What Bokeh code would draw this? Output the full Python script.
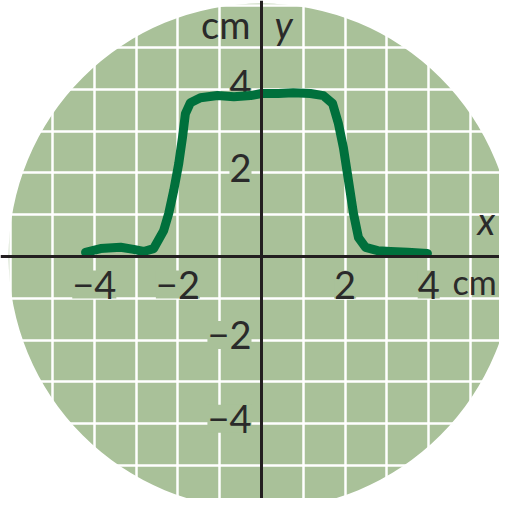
from bokeh.plotting import figure
from bokeh.models import Grid, SingleIntervalTicker, Span, ColumnDataSource
from bokeh.core.properties import value
from bokeh.embed import file_html
from bokeh.resources import INLINE

# ---- data ----
curve_x = [-4.21, -3.85, -3.37, -3.06, -2.82, -2.58, -2.34, -2.22, -2.10, -1.98,
           -1.89, -1.82, -1.70, -1.46, -1.05, -0.66, -0.26, 0.0, 0.40, 0.76, 1.17,
           1.48, 1.70, 1.84, 1.96, 2.08, 2.20, 2.32, 2.49, 2.78, 3.09, 3.50, 3.97]
curve_y = [0.10, 0.19, 0.22, 0.17, 0.12, 0.19, 0.62, 1.03, 1.58, 2.22,
           2.85, 3.42, 3.68, 3.80, 3.85, 3.82, 3.85, 3.90, 3.90, 3.92, 3.90,
           3.85, 3.66, 3.18, 2.60, 1.82, 1.03, 0.45, 0.22, 0.14, 0.12, 0.10, 0.07]

x_tick_values = [-4, -2, 2, 4]
x_tick_labels = ["\u22124", "\u22122", "2", "4"]
y_tick_values = [4, 2, -2, -4]
y_tick_labels = ["4", "2", "\u22122", "\u22124"]
disc_radius = 6.05

GREEN = "#a9c199"
CURVE = "#00703c"
INK = "#231f20"
TEXT = "#2a2a2a"
FONT = value("Lato")
FS = "38px"

px = 41.8
W, H = 499, 498
ox, oy = 261, 256
p = figure(width=W, height=H, output_backend="svg", toolbar_location=None,
           x_range=(-ox / px, (W - ox) / px), y_range=(-(H - oy) / px, oy / px),
           x_axis_type=None, y_axis_type=None, min_border=0,
           outline_line_color=None, background_fill_color="white",
           border_fill_color="white")

p.circle(x=[0], y=[0], radius=disc_radius, fill_color=GREEN, line_color=None,
         level="image")

for dim in (0, 1):
    p.add_layout(Grid(dimension=dim, ticker=SingleIntervalTicker(interval=1),
                      grid_line_color="white", grid_line_width=2.5))

xs = ColumnDataSource(dict(x=x_tick_values, y=[0] * len(x_tick_values), t=x_tick_labels))
p.text(x="x", y="y", text="t", source=xs, text_font=FONT, text_font_size=FS,
       text_color=TEXT, text_align="center", text_baseline="alphabetic",
       y_offset=28, background_fill_color=GREEN)
ys = ColumnDataSource(dict(x=[0] * len(y_tick_values), y=y_tick_values, t=y_tick_labels))
p.text(x="x", y="y", text="t", source=ys, text_font=FONT, text_font_size=FS,
       text_color=TEXT, text_align="right", text_baseline="alphabetic",
       x_offset=-10, y_offset=-5, background_fill_color=GREEN)

# axis titles
p.text(x=[0], y=[5.574], text=["cm"], text_font=FONT, text_font_size=FS,
       text_color=TEXT, text_align="right", text_baseline="alphabetic", x_offset=-11)
p.text(x=[0], y=[5.574], text=["y"], text_font=FONT, text_font_size=FS,
       text_font_style="italic", text_color=TEXT, text_align="left",
       text_baseline="alphabetic", x_offset=13)
p.text(x=[5.17], y=[0.885], text=["x"], text_font=FONT, text_font_size=FS,
       text_font_style="italic", text_color=TEXT, text_align="left",
       text_baseline="alphabetic")
p.text(x=[4.57], y=[-0.598], text=["cm"], text_font=FONT, text_font_size="34px",
       text_color=TEXT, text_align="left", text_baseline="alphabetic")

p.line(curve_x, curve_y, line_width=9, line_color=CURVE, line_join="round",
       line_cap="round")

p.add_layout(Span(location=0, dimension="width", line_color=INK, line_width=3))
p.add_layout(Span(location=0, dimension="height", line_color=INK, line_width=3))

with open("out.html", "w", encoding="utf-8") as f:
    f.write(file_html(p, INLINE))
